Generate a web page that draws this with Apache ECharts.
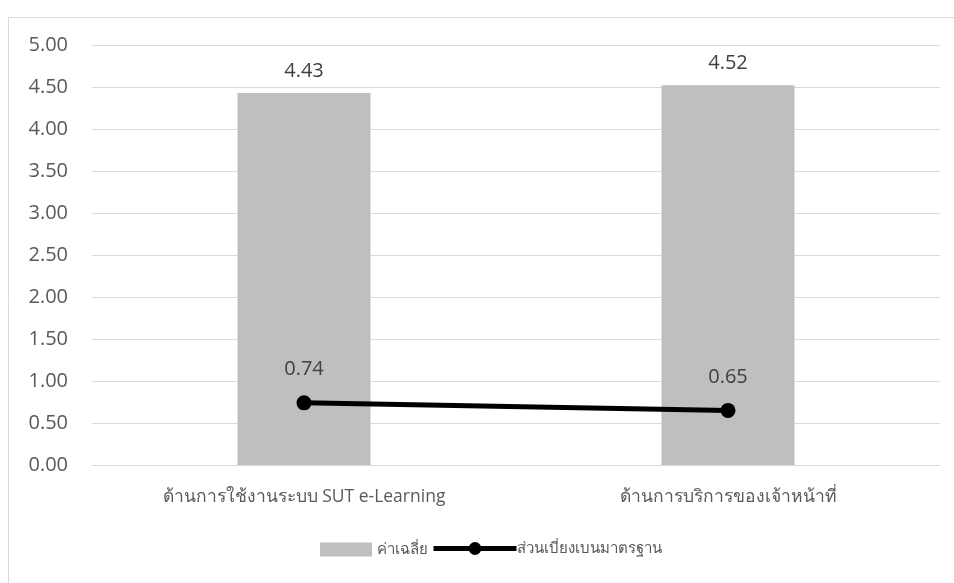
<!DOCTYPE html>
<html>
<head>
<meta charset="utf-8">
<script src="https://cdn.jsdelivr.net/npm/echarts@6/dist/echarts.min.js"></script>
<style>
  html, body { margin: 0; padding: 0; background: #fff; }
  #chart { width: 954px; height: 583px; }
</style>
</head>
<body>
<div id="chart"></div>
<script>
// Categories and values
const categories = ['ด้านการใช้งานระบบ SUT e-Learning', 'ด้านการบริการของเจ้าหน้าที่'];
const meanValues = [4.43, 4.52];
const sdValues = [0.74, 0.65];
const seriesNames = ['ค่าเฉลี่ย', 'ส่วนเบี่ยงเบนมาตรฐาน'];

const FONT = '"Open Sans", "Noto Sans", sans-serif';

const chart = echarts.init(document.getElementById('chart'), null, { renderer: 'canvas' });
chart.setOption({
  backgroundColor: '#ffffff',
  animation: false,
  graphic: [{
    type: 'rect',
    shape: { x: 8.5, y: 17.5, width: 1000, height: 700 },
    style: { fill: 'none', stroke: '#d9d9d9', lineWidth: 1 },
    silent: true
  }],
  grid: { left: 92, right: 14, top: 45, bottom: 118 },
  legend: [
    {
      left: 320,
      top: 542,
      padding: 0,
      itemWidth: 52,
      itemHeight: 14,
      textStyle: { color: '#595959', fontSize: 15, fontFamily: FONT },
      data: [{ name: seriesNames[0], icon: 'rect', itemStyle: { color: '#bfbfbf' } }]
    },
    {
      left: 431,
      top: 541,
      padding: 0,
      itemWidth: 83,
      itemHeight: 16,
      textStyle: { color: '#595959', fontSize: 15, fontFamily: FONT, padding: [0, 0, 0, -5] },
      data: [{ name: seriesNames[1], lineStyle: { width: 5, color: '#000000' } }]
    }
  ],
  xAxis: {
    type: 'category',
    data: categories,
    axisLine: { lineStyle: { color: '#d9d9d9', width: 1 } },
    axisTick: { show: false },
    axisLabel: {
      color: '#595959', fontSize: 17.5, fontFamily: FONT, margin: 23
    }
  },
  yAxis: {
    type: 'value',
    min: 0, max: 5, interval: 0.5,
    axisLine: { show: false },
    axisTick: { show: false },
    splitLine: { lineStyle: { color: '#d9d9d9', width: 1 } },
    axisLabel: {
      color: '#595959', fontSize: 20, fontFamily: FONT, margin: 24,
      formatter: v => v.toFixed(2)
    }
  },
  series: [
    {
      name: seriesNames[0],
      type: 'bar',
      data: meanValues,
      barWidth: 133,
      itemStyle: { color: '#bfbfbf' },
      label: {
        show: true, position: 'top', distance: 12,
        color: '#404040', fontSize: 20, fontFamily: FONT,
        formatter: p => p.value.toFixed(2)
      }
    },
    {
      name: seriesNames[1],
      type: 'line',
      data: sdValues,
      symbol: 'circle',
      symbolSize: 15,
      lineStyle: { color: '#000000', width: 5 },
      itemStyle: { color: '#000000' },
      label: {
        show: true, position: 'top', distance: 16,
        color: '#404040', fontSize: 20, fontFamily: FONT,
        formatter: p => p.value.toFixed(2)
      }
    }
  ]
});
</script>
</body>
</html>
